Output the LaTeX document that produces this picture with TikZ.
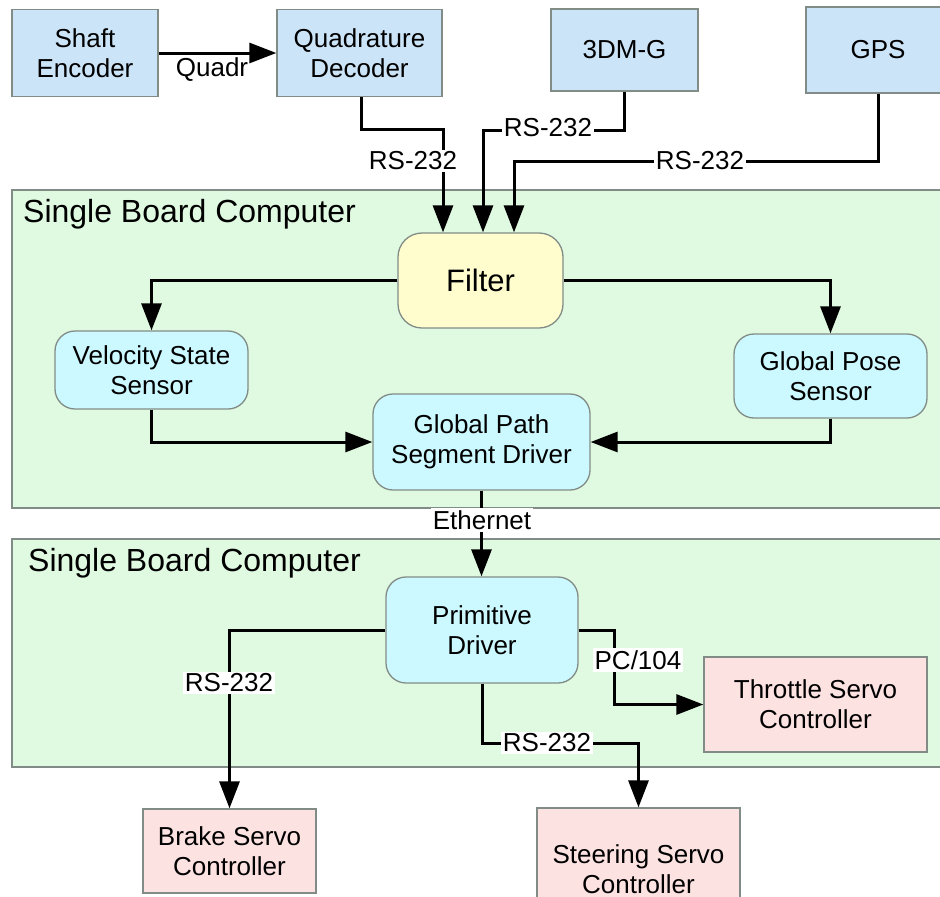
\documentclass[tikz,border=0pt]{standalone}
\usepackage{fontspec}
\setmainfont{Liberation Sans}
\usetikzlibrary{arrows.meta}
\definecolor{bluebox}{RGB}{204,228,247}
\definecolor{cyanbox}{RGB}{204,249,255}
\definecolor{yellowbox}{RGB}{255,252,206}
\definecolor{greenbg}{RGB}{224,250,226}
\definecolor{pinkbox}{RGB}{253,226,226}
\definecolor{edgegray}{RGB}{130,140,135}
\tikzset{
  x=1pt,y=-1pt,
  boxbase/.style={draw=edgegray,line width=1.3pt,align=center,inner sep=2pt,
    font=\fontsize{26}{30}\selectfont},
  bluesq/.style={boxbase,fill=bluebox},
  cyanrnd/.style={boxbase,fill=cyanbox,rounded corners=20pt},
  yelrnd/.style={boxbase,fill=yellowbox,rounded corners=24pt,font=\fontsize{31}{36}\selectfont},
  pinksq/.style={boxbase,fill=pinkbox},
  sbcbox/.style={draw=edgegray,line width=1.3pt,fill=greenbg},
  sbctitle/.style={anchor=west,inner sep=0pt,font=\fontsize{32}{36}\selectfont},
  lbl/.style={fill=white,inner sep=2pt,font=\fontsize{26}{30}\selectfont},
  lblnf/.style={inner sep=2pt,font=\fontsize{26}{30}\selectfont},
  arr/.style={line width=3pt,-{Triangle[length=27pt,width=20pt]}},
}
\begin{document}
\begin{tikzpicture}
\useasboundingbox (0,0) rectangle (940,897);
\clip (0,0) rectangle (940,897);
\fill[white] (0,0) rectangle (940,897);

% background computer boxes
\draw[sbcbox] (12,190) rectangle (960,508);
\node[sbctitle] (t1) at (23,214) {Single Board Computer};
\draw[sbcbox] (12,539) rectangle (960,767);
\node[sbctitle] (t2) at (28,563) {Single Board Computer};

% top devices
\node[bluesq,minimum width=146pt,minimum height=87pt] (shaft) at (85,53) {Shaft\\Encoder};
\node[bluesq,minimum width=165pt,minimum height=87pt] (quad) at (359.5,53) {Quadrature\\Decoder};
\node[bluesq,minimum width=147pt,minimum height=82pt] (dmg) at (624.5,50) {3DM-G};
\node[bluesq,minimum width=144pt,minimum height=86pt] (gps) at (878,50) {GPS};

% first computer
\node[yelrnd,minimum width=165pt,minimum height=95pt] (filter) at (480.5,280.5) {Filter};
\node[cyanrnd,minimum width=193pt,minimum height=78pt] (vel) at (151.5,370) {Velocity State\\Sensor};
\node[cyanrnd,minimum width=193pt,minimum height=84pt] (gpose) at (830.5,376) {Global Pose\\Sensor};
\node[cyanrnd,minimum width=217pt,minimum height=96pt] (gpath) at (481.5,442) {Global Path\\Segment Driver};

% second computer
\node[cyanrnd,minimum width=192pt,minimum height=106pt] (prim) at (482,630) {Primitive\\Driver};
\node[pinksq,minimum width=223pt,minimum height=95pt] (throttle) at (815.5,704.5) {Throttle Servo\\Controller};
\node[pinksq,minimum width=173pt,minimum height=84pt] (brake) at (229.5,851) {Brake Servo\\Controller};
\node[pinksq,minimum width=203pt,minimum height=122pt] (steer) at (638.5,869) {Steering Servo\\Controller};

% connectors
\draw[arr] (shaft.east) -- (quad.west);
\node[lblnf] (lq) at (212,70) {Quadr};

\draw[arr] ([xshift=1.5pt]quad.south) -- ++(0,32) -| ([xshift=-37.5pt]filter.north);
\node[lbl] (l1) at (413,161) {RS-232};

\draw[arr] (dmg.south) -- ++(0,39) -| ([xshift=2.5pt]filter.north);
\node[lbl] (l2) at (548,128) {RS-232};

\draw[arr] (gps.south) -- ++(0,68) -| ([xshift=33.5pt]filter.north);
\node[lbl] (l3) at (700,161) {RS-232};

\draw[arr] (filter.west) -| (vel.north);
\draw[arr] (filter.east) -| (gpose.north);
\draw[arr] (vel.south) |- (gpath.west);
\draw[arr] (gpose.south) |- (gpath.east);

\draw[arr] (gpath.south) -- (gpath.south |- prim.north);
\node[lbl] (le) at (482,520) {Ethernet};

\draw[arr] (prim.west) -| (brake.north);
\node[lbl] (l4) at (229,683) {RS-232};

\draw[arr] (prim.east) -- ++(36,0) |- (throttle.west);
\node[lbl] (l5) at (638,660) {PC/104};

\draw[arr] (prim.south) -- ++(0,60) -| (steer.north);
\node[lbl] (l6) at (547,743) {RS-232};
\end{tikzpicture}
\end{document}
